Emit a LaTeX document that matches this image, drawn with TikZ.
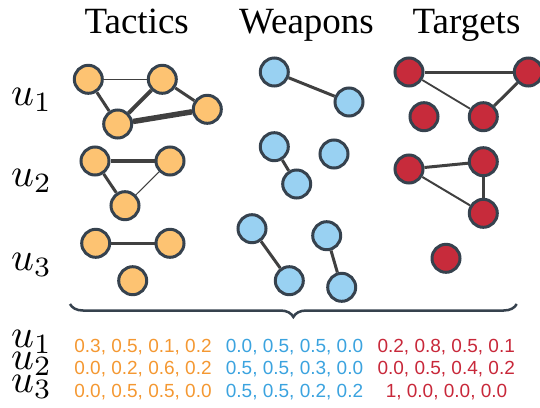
\documentclass[tikz,border=0pt]{standalone}
\usepackage{graphicx}
\usepackage{fontspec}
\setmainfont{Liberation Serif}
\newfontfamily\numfont{Liberation Sans}
\usetikzlibrary{decorations.pathreplacing}
\definecolor{outl}{HTML}{36424E}
\definecolor{edgec}{HTML}{404040}
\definecolor{orfill}{HTML}{FDC372}
\definecolor{blfill}{HTML}{99D1F2}
\definecolor{rdfill}{HTML}{C72B3B}
\definecolor{ortext}{HTML}{F49832}
\definecolor{bltext}{HTML}{3BA3DF}
\definecolor{rdtext}{HTML}{C8283A}
\newcommand{\ulabtext}[1]{\scalebox{4}{$u_{#1}$}}
\tikzset{
  vert/.style={circle, draw=outl, line width=3pt, minimum size=28pt, inner sep=0pt},
  ov/.style={vert, fill=orfill},
  bv/.style={vert, fill=blfill},
  rv/.style={vert, fill=rdfill},
  ed/.style={draw=edgec, line width=#1},
  hdr/.style={font=\fontsize{37}{37}\selectfont, anchor=base, inner sep=0pt},
  ulab/.style={font=\normalsize, anchor=base west, inner sep=0pt},
  vals/.style={font=\numfont\fontsize{19}{19}\selectfont, anchor=base, inner sep=0pt},
}
\begin{document}
\begin{tikzpicture}[x=1pt,y=-1pt]
\useasboundingbox (0,0) rectangle (540,407);
% headers
\node[hdr] (h1) at (136.7,33.5) {Tactics};
\node[hdr] (h2) at (306.5,33.5) {Weapons};
\node[hdr] (h3) at (466.5,33.5) {Targets};
% row labels
\node[ulab] (l1) at (11,105) {\ulabtext{1}};
\node[ulab] (l2) at (11,186) {\ulabtext{2}};
\node[ulab] (l3) at (11,270) {\ulabtext{3}};
% orange
\node[ov] (A1) at (88.3,79.3) {};
\node[ov] (A2) at (162.3,79.3) {};
\node[ov] (A3) at (117.7,124) {};
\node[ov] (A4) at (207.3,109.3) {};
\node[ov] (B1) at (95,161) {};
\node[ov] (B2) at (170,161) {};
\node[ov] (B3) at (125,205.7) {};
\node[ov] (C1) at (95.7,243.3) {};
\node[ov] (C2) at (170,243.3) {};
\node[ov] (C3) at (132.7,280.7) {};
\path[ed=1.2pt] (A1) -- (A2);
\path[ed=3pt] (A1) -- (A3);
\path[ed=4pt] (A2) -- (A3);
\path[ed=3pt] (A2) -- (A4);
\path[ed=5.5pt] (A3) -- (A4);
\path[ed=4.5pt] (B1) -- (B2);
\path[ed=3pt] (B1) -- (B3);
\path[ed=1pt] (B2) -- (B3);
\path[ed=3pt] (C1) -- (C2);
% blue
\node[bv] (D1) at (274.3,72) {};
\node[bv] (D2) at (349,102) {};
\node[bv] (E1) at (274.3,146.7) {};
\node[bv] (E2) at (334,154) {};
\node[bv] (E3) at (296.7,184) {};
\node[bv] (F1) at (252,228.7) {};
\node[bv] (F2) at (289.3,280.7) {};
\node[bv] (F3) at (326.7,235.7) {};
\node[bv] (F4) at (341.7,287.3) {};
\path[ed=3pt] (D1) -- (D2);
\path[ed=3pt] (E1) -- (E3);
\path[ed=3pt] (F1) -- (F2);
\path[ed=3pt] (F3) -- (F4);
% red
\node[rv] (G1) at (409,72) {};
\node[rv] (G2) at (528.3,72) {};
\node[rv] (G3) at (424,116.7) {};
\node[rv] (G4) at (483.3,116.7) {};
\node[rv] (H1) at (409,169) {};
\node[rv] (H2) at (483.3,161.7) {};
\node[rv] (H3) at (483.3,213.3) {};
\node[rv] (I1) at (446,258.3) {};
\path[ed=3pt] (G1) -- (G2);
\path[ed=1.8pt] (G1) -- (G4);
\path[ed=3pt] (G2) -- (G4);
\path[ed=3pt] (H1) -- (H2);
\path[ed=2pt] (H1) -- (H3);
\path[ed=3pt] (H2) -- (H3);
% brace
\coordinate (bl) at (70,304);
\coordinate (br) at (516.7,304);
\draw[outl, line width=2.5pt, decorate, decoration={brace, amplitude=13pt, mirror}] (bl) -- (br);
% bottom labels
\node[ulab] (m1) at (11,347) {\ulabtext{1}};
\node[ulab] (m2) at (11,369.5) {\ulabtext{2}};
\node[ulab] (m3) at (11,392) {\ulabtext{3}};
\node[vals, text=ortext] (o1) at (143,352) {0.3, 0.5, 0.1, 0.2};
\node[vals, text=ortext] (o2) at (143,374.5) {0.0, 0.2, 0.6, 0.2};
\node[vals, text=ortext] (o3) at (143,397) {0.0, 0.5, 0.5, 0.0};
\node[vals, text=bltext] (b1) at (294.5,352) {0.0, 0.5, 0.5, 0.0};
\node[vals, text=bltext] (b2) at (294.5,374.5) {0.5, 0.5, 0.3, 0.0};
\node[vals, text=bltext] (b3) at (294.5,397) {0.5, 0.5, 0.2, 0.2};
\node[vals, text=rdtext] (r1) at (446.2,352) {0.2, 0.8, 0.5, 0.1};
\node[vals, text=rdtext] (r2) at (446.2,374.5) {0.0, 0.5, 0.4, 0.2};
\node[vals, text=rdtext] (r3) at (446.5,397) {1, 0.0, 0.0, 0.0};
\end{tikzpicture}
\end{document}
